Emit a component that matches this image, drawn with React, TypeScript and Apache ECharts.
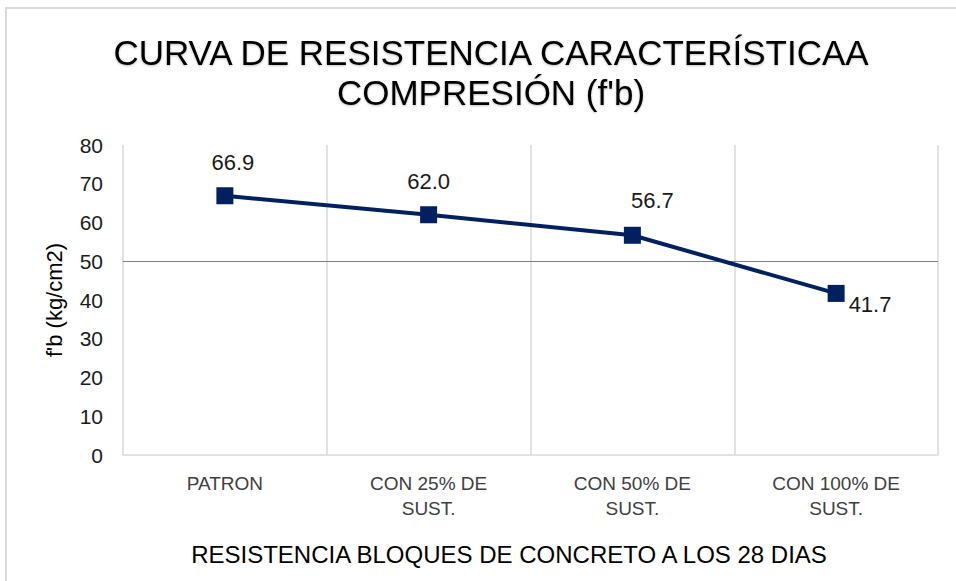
import React, { useEffect, useRef } from "react";
import * as echarts from "echarts";

const categories = [
  "PATRON",
  "CON 25% DE\nSUST.",
  "CON 50% DE\nSUST.",
  "CON 100% DE\nSUST.",
];
const values = [66.9, 62.0, 56.7, 41.7];
const yTicks = { min: 0, max: 80, interval: 10 };
const referenceLineValue = 50;

const titleText = "CURVA DE RESISTENCIA CARACTERÍSTICAA\nCOMPRESIÓN (f'b)";
const xAxisTitle = "RESISTENCIA BLOQUES DE CONCRETO A LOS 28 DIAS";
const yAxisTitle = "f'b (kg/cm2)";

const FONT = "'Liberation Sans', Arial, sans-serif";
const NAVY = "#002060";

export default function App() {
  const ref = useRef<HTMLDivElement>(null);

  useEffect(() => {
    if (!ref.current) return;
    const chart = echarts.init(ref.current, undefined, { renderer: "svg" });

    const labelConfigs = [
      { position: "top", distance: 14, offset: [8, 0] },
      { position: "top", distance: 14, offset: [0, 0] },
      { position: "top", distance: 15, offset: [20, 0] },
      { position: "right", distance: 4, offset: [0, 11] },
    ];

    chart.setOption({
      animation: false,
      backgroundColor: "#ffffff",
      graphic: [
        {
          type: "rect",
          z: -10,
          shape: { x: 6, y: 8, width: 1200, height: 1200 },
          style: { fill: "none", stroke: "#d9d9d9", lineWidth: 2 },
        },
      ],
      title: [
        {
          text: titleText,
          left: 486,
          top: 27,
          textAlign: "center",
          textStyle: {
            fontFamily: FONT,
            fontSize: 35,
            fontWeight: "normal",
            color: "#000000",
            lineHeight: 40,
            textShadowColor: "rgba(0,0,0,0.25)",
            textShadowBlur: 2,
            textShadowOffsetY: 1,
          },
        },
        {
          text: xAxisTitle,
          left: 504,
          top: 537,
          textAlign: "center",
          textStyle: {
            fontFamily: FONT,
            fontSize: 24,
            fontWeight: "normal",
            color: "#000000",
          },
        },
      ],
      grid: { left: 123, right: 18, top: 145, bottom: 126, containLabel: false },
      xAxis: {
        type: "category",
        data: categories,
        boundaryGap: true,
        axisLine: { show: true, lineStyle: { color: "#d9d9d9", width: 1.5 } },
        axisTick: { show: false },
        splitLine: { show: true, lineStyle: { color: "#d9d9d9", width: 1.5 } },
        axisLabel: {
          interval: 0,
          margin: 16,
          fontFamily: FONT,
          fontSize: 19,
          color: "#404040",
          lineHeight: 25,
        },
      },
      yAxis: {
        type: "value",
        min: yTicks.min,
        max: yTicks.max,
        interval: yTicks.interval,
        name: yAxisTitle,
        nameLocation: "middle",
        nameGap: 58,
        nameRotate: 90,
        nameTextStyle: {
          fontFamily: FONT,
          fontSize: 22,
          color: "#000000",
        },
        axisLine: { show: false },
        axisTick: { show: false },
        splitLine: { show: false },
        axisLabel: {
          margin: 20,
          fontFamily: FONT,
          fontSize: 21,
          color: "#1a1a1a",
        },
      },
      series: [
        {
          type: "line",
          data: values.map((v, i) => ({
            value: v,
            label: labelConfigs[i],
          })),
          symbol: "rect",
          symbolSize: 17,
          itemStyle: { color: NAVY },
          lineStyle: { color: NAVY, width: 4 },
          label: {
            show: true,
            fontFamily: FONT,
            fontSize: 22,
            color: "#1a1a1a",
            formatter: (p: any) => Number(p.value).toFixed(1),
          },
          markLine: {
            silent: true,
            symbol: "none",
            label: { show: false },
            lineStyle: { color: "#7f7f7f", width: 1.2, type: "solid" },
            data: [{ yAxis: referenceLineValue }],
          },
          z: 5,
        },
      ],
    });

    return () => chart.dispose();
  }, []);

  return (
    <div
      ref={ref}
      style={{ position: "fixed", left: 0, top: 0, width: 956, height: 581, background: "#fff" }}
    />
  );
}
